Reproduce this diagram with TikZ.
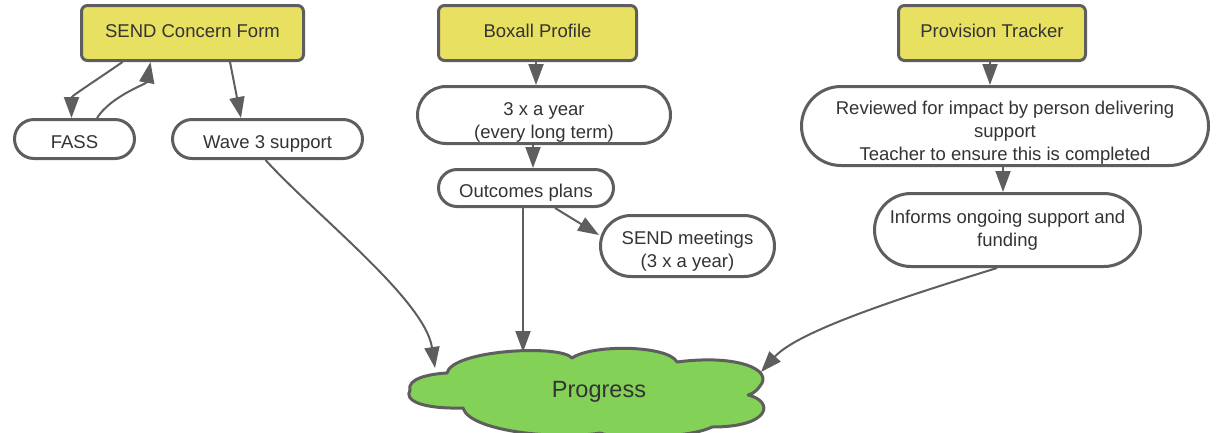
\documentclass[tikz,border=0pt]{standalone}
\usepackage{fontspec}
\setmainfont{Liberation Sans}
\usetikzlibrary{arrows.meta}
\definecolor{edge}{RGB}{94,94,94}
\definecolor{lucidyellow}{RGB}{232,224,96}
\definecolor{lucidgreen}{RGB}{131,209,86}
\definecolor{ink}{RGB}{51,51,51}

\begin{document}
\begin{tikzpicture}[x=1pt, y=-1pt,
        box/.style={draw=edge, line width=3pt, fill=lucidyellow, rounded corners=6pt,
            inner sep=0pt, text=ink, text height=13pt, text depth=4pt,
            font=\fontsize{18.5pt}{23pt}\selectfont},
        pill/.style={draw=edge, line width=3pt, fill=white, rounded corners=#1,
            inner sep=0pt, align=center, text=ink, font=\fontsize{18.5pt}{23pt}\selectfont},
        oneline/.style={text height=18pt, text depth=0pt},
        link/.style={draw=edge, line width=2pt, -{Triangle[length=21pt,width=15pt]}}]
            \useasboundingbox (0,0) rectangle (1217,432);

            \node[box, minimum width=222pt, minimum height=55pt] (concern_form) at (192.5,33) {SEND Concern Form};
            \node[box, minimum width=198pt, minimum height=55pt] (boxall) at (537.5,33) {Boxall Profile};
            \node[box, minimum width=187pt, minimum height=55pt] (tracker) at (992,33) {Provision Tracker};

            \node[pill=19.5pt, oneline, minimum width=120pt, minimum height=39pt] (fass) at (74.5,139) {FASS};
            \node[pill=19.5pt, oneline, minimum width=190pt, minimum height=39pt] (wave_3) at (267.5,139) {Wave 3 support};
            \node[pill=28.5pt, minimum width=253pt, minimum height=57pt] (year) at (544,115) {\rule{0pt}{27pt}3 x a year\\(every long term)};
            \node[pill=18.5pt, oneline, minimum width=175pt, minimum height=37pt] (outcomes) at (526,188) {Outcomes plans};
            \node[pill=30.5pt, minimum width=174pt, minimum height=61pt] (meetings) at (687.5,246) {\rule{0pt}{24pt}SEND meetings\\(3 x a year)};
            \node[pill=39.5pt, minimum width=407pt, minimum height=79pt] (reviewed) at (1005,126) {\rule{0pt}{26pt}Reviewed for impact by person delivering\\support\\Teacher to ensure this is completed};
            \node[pill=36.5pt, minimum width=266pt, minimum height=73pt] (informs) at (1007.5,230) {Informs ongoing support and\\funding};

            \draw[edge, line width=3pt, fill=lucidgreen, line join=round]
                (410,390) .. controls (407,379) and (428,374) .. (447,373)
                .. controls (452,350) and (560,344) .. (572,358)
                .. controls (592,344) and (668,345) .. (677,362)
                .. controls (738,354) and (774,370) .. (760,386)
                .. controls (757,391) and (752,394) .. (748,395)
                .. controls (774,401) and (772,427) .. (712,427)
                .. controls (690,438) and (620,440) .. (600,433)
                .. controls (560,440) and (470,432) .. (463,408)
                .. controls (420,409) and (404,400) .. (410,390) -- cycle;
            \node[text=ink, font=\fontsize{23.5pt}{28pt}\selectfont, minimum width=352pt, minimum height=79pt,
                inner sep=0pt] (progress) at (599,392) {Progress};

            \draw[link] ([xshift=-70pt]concern_form.south) .. controls +(-20,14) and +(0,-22) .. ([xshift=-3pt]fass.north);
            \draw[link] ([xshift=22.5pt]fass.north) .. controls +(14,-22) and +(-4,22) .. ([xshift=-42pt]concern_form.south);
            \draw[link] ([xshift=37.5pt]concern_form.south) -- ([xshift=-26.5pt]wave_3.north);
            \draw[link] ([xshift=-2pt]wave_3.south) .. controls +(50,55) and +(-10,-68) .. ([xshift=-164pt,yshift=24pt]progress.center);

            \draw[link] ([xshift=-1.5pt]boxall.south) -- ([xshift=-8pt]year.north);
            \draw[link] ([xshift=-11pt]year.south) -- ([xshift=7pt]outcomes.north);
            \draw[link] ([xshift=29pt]outcomes.south) -- ([yshift=11pt]meetings.west);
            \draw[link] ([xshift=-3pt]outcomes.south) -- ([xshift=-76pt,yshift=40pt]progress.center);

            \draw[link] ([xshift=-2pt]tracker.south) -- ([xshift=-15pt]reviewed.north);
            \draw[link] ([xshift=-2pt]reviewed.south) -- ([xshift=-4.5pt]informs.north);
            \draw[link] ([xshift=-10.5pt]informs.south) .. controls +(-87,27) and +(38,-42) .. ([xshift=162pt,yshift=20pt]progress.center);
        \end{tikzpicture}
\end{document}
